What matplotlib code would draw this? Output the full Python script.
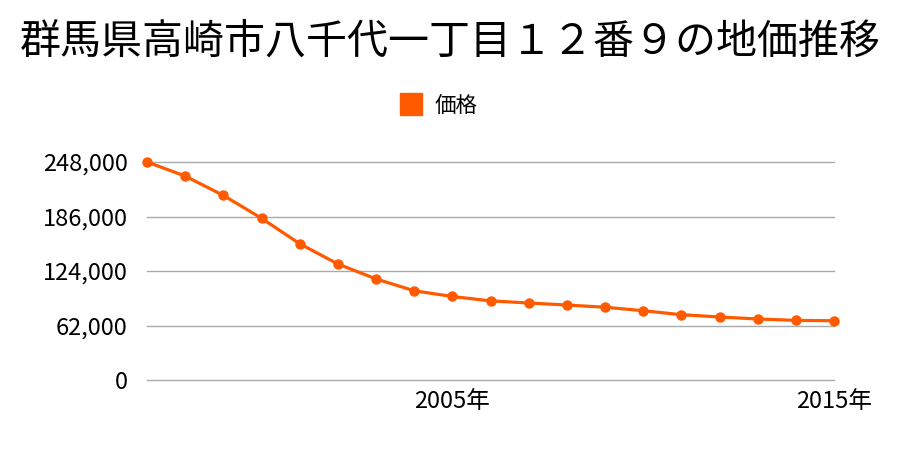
import numpy as np
import matplotlib
matplotlib.use('Agg')
import matplotlib.pyplot as plt
from matplotlib.lines import Line2D
from matplotlib.ticker import FuncFormatter

plt.rcParams['font.family'] = ['Noto Sans CJK JP', 'DejaVu Sans']

# -- Data --
years = list(range(1997, 2016))
prices = [248000, 232000, 210000, 184000, 155000, 132000, 115000, 101500,
          95000, 90000, 87600, 85300, 82800, 78800, 74300, 71700, 69400,
          67800, 67400]
yTicks = [0, 62000, 124000, 186000, 248000]
xTicks = [2005, 2015]
xTickLabels = ['2005年', '2015年']
titleText = '群馬県高崎市八千代一丁目１２番９の地価推移'
seriesName = '価格'

lineColor = '#ff5a00'
gridColor = '#aaaaaa'

fig = plt.figure(figsize=(9, 4.5), dpi=100)
ax = fig.add_axes([147/900, 1-380/450, (834-147)/900, (380-162)/450])

ax.plot(years, prices, color=lineColor, lw=2.3, marker='o', ms=6.5,
        clip_on=False, zorder=3)

ax.set_xlim(years[0], years[-1])
ax.set_ylim(0, 248000)
ax.set_yticks(yTicks)
ax.yaxis.set_major_formatter(FuncFormatter(lambda v, p: '{:,}'.format(int(v))))
ax.set_xticks(xTicks)
ax.set_xticklabels(xTickLabels)
ax.tick_params(axis='both', length=0, labelsize=17, colors='black')
ax.tick_params(axis='y', pad=14)
ax.tick_params(axis='x', pad=7)
ax.grid(axis='y', color=gridColor, lw=1)
for gl in ax.get_ygridlines():
    gl.set_clip_on(False)
ax.set_axisbelow(True)
for sp in ax.spines.values():
    sp.set_visible(False)

fig.text(0.5, 1-42/450, titleText, ha='center', va='center', fontsize=29.5)

handle = Line2D([], [], color=lineColor, marker='s', ls='none', ms=15.5)
fig.legend([handle], [seriesName], loc='center', bbox_to_anchor=(0.488, 1-106/450),
           frameon=False, fontsize=15.5, handlelength=1.0, handletextpad=0.6,
           borderaxespad=0)

fig.savefig('out.png', dpi=100)
